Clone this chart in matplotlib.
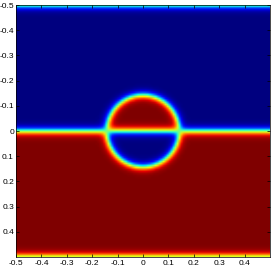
import matplotlib
matplotlib.use('Agg')
import matplotlib.pyplot as plt
import numpy as np

plt.rcParams.update({
    'font.family': ['Liberation Sans', 'DejaVu Sans'],
    'font.size': 6,
    'xtick.direction': 'in',
    'ytick.direction': 'in',
    'xtick.top': True,
    'ytick.right': True,
    'xtick.major.size': 2,
    'ytick.major.size': 2,
    'xtick.major.width': 0.5,
    'ytick.major.width': 0.5,
    'xtick.major.pad': 2,
    'ytick.major.pad': 1.5,
    'axes.linewidth': 0.5,
})

# phase-field snapshot: two layers split at y=0, a disc of inverted phase
N = 128                 # grid cells per side
R_DISC = 0.142          # disc radius
X0, Y0 = 0.0, 0.0       # disc centre
EPS = 0.016             # interface width
LINE_Y = 0.0            # flat interface position

XTICKS = [-0.5, -0.4, -0.3, -0.2, -0.1, 0, 0.1, 0.2, 0.3, 0.4]
YTICKS = [-0.5, -0.4, -0.3, -0.2, -0.1, 0, 0.1, 0.2, 0.3, 0.4]

h = 1.0 / N
c = -0.5 + h / 2 + h * np.arange(N)
X, Y = np.meshgrid(c, c)

# flat interface, periodic in y (wraps at y = +-0.5)
f = np.tanh((Y - LINE_Y) / EPS) * np.tanh((0.5 - np.abs(Y)) / EPS)
# disc flips the phase inside
r = np.hypot(X - X0, Y - Y0)
g = np.tanh((r - R_DISC) / EPS)
phi = f * g

fig = plt.figure(figsize=(2.72, 2.68), dpi=100)
ax = fig.add_axes([16 / 272, 11 / 268, 254 / 272, 252 / 268])
ax.imshow(phi, cmap='jet', vmin=-1, vmax=1, extent=(-0.5, 0.5, 0.5, -0.5),
          interpolation='bilinear', aspect='auto')
ax.set_xlim(-0.5, 0.5)
ax.set_ylim(0.5, -0.5)
ax.set_xticks(XTICKS)
ax.set_xticklabels(['%g' % v for v in XTICKS])
ax.set_yticks(YTICKS)
ax.set_yticklabels(['%g' % v for v in YTICKS])

fig.savefig('out.png', dpi=100)
